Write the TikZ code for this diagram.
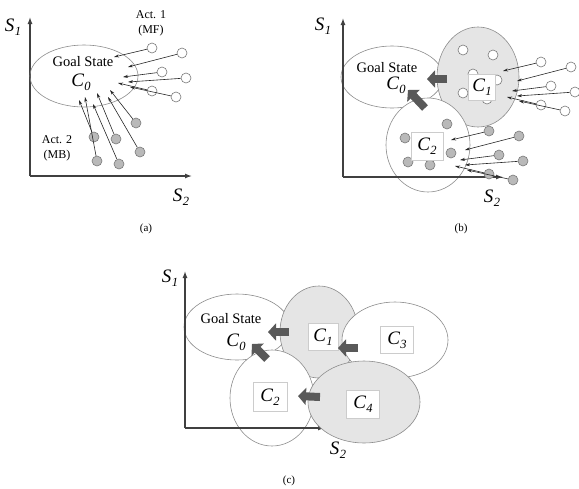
\documentclass[tikz,border=0pt]{standalone}
\usepackage{fontspec}
\setmainfont{Liberation Serif}
\usetikzlibrary{arrows.meta,shapes.geometric}

\newcommand{\lbl}[2]{{\fontsize{19}{19}\selectfont\itshape #1\kern.3pt\raisebox{-.45ex}{\fontsize{12.5}{12.5}\selectfont #2}}}

% dot offsets / arrow tip offsets
\def\mflist{0/0/-38/9, 30/5/-24/19, 10/24/-29/29, 34/30/-24/34, 0/43/-34/35, 24/49/-22/39}
\def\mblist{0/0/-26/-33, -42/14/-57/-23, -20/16/-39/-30, 4/29/-28/-26, -39/38/-51/-26, -17/41/-43/-19}

% name, x, y, dot style, list, arrow style
\newcommand{\dotcloud}[6]{%
  \begin{scope}[shift={(#2,#3)}]
    \foreach \dx/\dy/\tx/\ty [count=\i] in #5 {
      \node[#4] (#1\i) at (\dx,\dy) {};
      \coordinate (#1t\i) at (\tx,\ty);
      \path[#6] (#1\i) -- (#1t\i);
    }
  \end{scope}}

\begin{document}
\begin{tikzpicture}[x=1pt,y=-1pt,
    every node/.style={font=\fontsize{14.5}{16}\selectfont},
    ell/.style={ellipse,draw=gray!90,line width=.6pt,inner sep=0pt},
    shd/.style={ell,fill=gray!20},
    wht/.style={ell,fill=white},
    lbox/.style={draw=gray!40,fill=white,inner sep=0pt},
    dotw/.style={circle,draw=gray!95!black,line width=.6pt,fill=white,
        minimum size=10pt,inner sep=0pt},
    dotg/.style={dotw,fill=gray!55},
    act/.style={draw=black!85,line width=.6pt,-{Stealth[length=5pt,width=3pt]}},
    axis/.style={draw=black!75,line width=1.3pt,-{Latex[length=7pt,width=5pt]}},
    blk/.style={draw=black!65,line width=8pt,-{Triangle[length=8pt,width=17pt]}},
    capt/.style={font=\fontsize{11}{12}\selectfont}]
  \useasboundingbox (0,0) rectangle (579,488);

  % (a)
  \coordinate (oa) at (30,176);
  \draw[axis] (oa) -- (30,17);
  \draw[axis] (oa) -- (192,176);
  \node (s1a) at (13,27) {\lbl{S}{1}};
  \node (s2a) at (181,197) {\lbl{S}{2}};
  \node[ell,minimum width=108pt,minimum height=62pt] (c0a) at (84,76) {};
  \node (gsa) at (83,62) {Goal State};
  \node (l0a) at (81,82) {\lbl{C}{0}};
  \node[align=center,font=\fontsize{12}{15}\selectfont] (mf) at (151,23) {Act. 1\\(MF)};
  \node[align=center,font=\fontsize{12}{15}\selectfont] (mb) at (57,148) {Act. 2\\(MB)};
  \dotcloud{mfa}{152}{48}{dotw}{\mflist}{act}
  \dotcloud{mba}{136}{123}{dotg}{\mblist}{act}
  \node[capt] (capa) at (146,229) {(a)};

  % (b)
  \node[wht,minimum width=102pt,minimum height=62pt] (c0b) at (392,77) {};
  \node[shd,minimum width=82pt,minimum height=100pt] (c1b) at (478,77) {};
  \node[wht,minimum width=84pt,minimum height=94pt] (c2b) at (428,145) {};
  \coordinate (ob) at (343,177);
  \draw[axis] (ob) -- (343,18);
  \draw[axis] (ob) -- (503,177);
  \node (s1b) at (323,26) {\lbl{S}{1}};
  \node (s2b) at (492,198) {\lbl{S}{2}};
  \node (gsb) at (387,68) {Goal State};
  \node (l0b) at (396,85) {\lbl{C}{0}};
  \dotcloud{inb}{463}{50}{dotw}{\mflist}{}
  \dotcloud{ibb}{447}{124}{dotg}{\mblist}{}
  \node[lbox,minimum width=27pt,minimum height=26pt] (b1b) at (482,87) {\lbl{C}{1}};
  \node[lbox,minimum width=32pt,minimum height=28pt] (b2b) at (427,146) {\lbl{C}{2}};
  \dotcloud{exw}{541}{62}{dotw}{\mflist}{act}
  \dotcloud{exg}{489}{131}{dotg}{\mflist}{act}
  \coordinate (t1b) at (447,79);  \coordinate (h1b) at (427,79);
  \coordinate (t2b) at (425,108); \coordinate (h2b) at (408,90);
  \draw[blk] (t1b) -- (h1b);
  \draw[blk] (t2b) -- (h2b);
  \node[capt] (capb) at (461,229) {(b)};

  % (c)
  \node[wht,minimum width=106pt,minimum height=66pt] (c0c) at (237,327) {};
  \node[shd,minimum width=78pt,minimum height=92pt] (c1c) at (319,332) {};
  \node[wht,minimum width=106pt,minimum height=76pt] (c3c) at (395,340) {};
  \node[wht,minimum width=84pt,minimum height=96pt] (c2c) at (272,398) {};
  \coordinate (oc) at (185,428);
  \draw[axis] (oc) -- (185,271);
  \draw[axis] (oc) -- (325,428);
  \node[shd,minimum width=112pt,minimum height=82pt] (c4c) at (364,402) {};
  \node (s1c) at (170,278) {\lbl{S}{1}};
  \node (s2c) at (338,450) {\lbl{S}{2}};
  \node (gsc) at (231,319) {Goal State};
  \node (l0c) at (236,342) {\lbl{C}{0}};
  \node[lbox,minimum width=30pt,minimum height=27pt] (b1c) at (323,337) {\lbl{C}{1}};
  \node[lbox,minimum width=33pt,minimum height=27pt] (b3c) at (397,340) {\lbl{C}{3}};
  \node[lbox,minimum width=34pt,minimum height=29pt] (b2c) at (270,397) {\lbl{C}{2}};
  \node[lbox,minimum width=33pt,minimum height=28pt] (b4c) at (363,404) {\lbl{C}{4}};
  \coordinate (t1c) at (289,332); \coordinate (h1c) at (268,332);
  \coordinate (t2c) at (267,359); \coordinate (h2c) at (252,344);
  \coordinate (t3c) at (358,348); \coordinate (h3c) at (338,348);
  \coordinate (t4c) at (320,397); \coordinate (h4c) at (298,396);
  \draw[blk] (t1c) -- (h1c);
  \draw[blk] (t2c) -- (h2c);
  \draw[blk] (t3c) -- (h3c);
  \draw[blk] (t4c) -- (h4c);
  \node[capt] (capc) at (289,481) {(c)};
\end{tikzpicture}
\end{document}
